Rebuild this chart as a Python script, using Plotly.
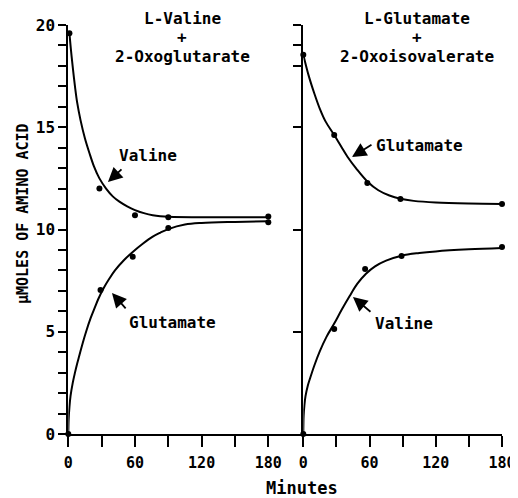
import plotly.graph_objects as go

# ---------------- data ----------------
minutes_ticks = [0, 30, 60, 90, 120, 150, 180]
minutes_ticktext = ["0", "", "60", "", "120", "", "180"]

# Left panel: L-Valine + 2-Oxoglutarate
left_t_points = [1, 28, 60, 90, 180]
left_valine_points = [19.6, 12.0, 10.7, 10.6, 10.63]
left_glut_t_points = [0, 29, 58, 90, 180]
left_glutamate_points = [0, 7.04, 8.67, 10.07, 10.35]

left_valine_curve_t = [1, 2, 3, 4.5, 6, 8, 11, 15, 19, 23, 28, 34, 40, 46, 53, 60, 68, 76, 91, 120, 180]
left_valine_curve_y = [19.6, 19.0, 18.45, 17.7, 17.0, 16.2, 15.35, 14.45, 13.74, 13.1, 12.5, 12.0,
                       11.62, 11.36, 11.13, 10.95, 10.8, 10.7, 10.62, 10.6, 10.6]
left_glut_curve_t = [0, 0.3, 1, 2, 4, 6, 8, 10, 13, 16, 20, 24, 27, 32, 37, 42, 50, 58, 67, 76, 83,
                     90, 105, 120, 150, 180]
left_glut_curve_y = [0, 0.7, 1.3, 1.85, 2.5, 3.0, 3.45, 3.85, 4.45, 5.0, 5.65, 6.2, 6.6, 7.15, 7.6,
                     8.0, 8.5, 8.9, 9.3, 9.65, 9.85, 10.02, 10.24, 10.32, 10.37, 10.4]

# Right panel: L-Glutamate + 2-Oxoisovalerate
right_t_points = [0, 28, 58, 88, 180]
right_glutamate_points = [18.55, 14.62, 12.27, 11.49, 11.25]
right_val_t_points = [0, 28, 56, 89, 180]
right_valine_points = [0, 5.13, 8.07, 8.70, 9.14]

right_glut_curve_t = [0, 5, 10, 15, 20, 28, 40, 48, 58, 68, 78, 88, 100, 120, 150, 180]
right_glut_curve_y = [18.55, 17.5, 16.65, 15.9, 15.3, 14.62, 13.56, 12.98, 12.35, 11.92, 11.66,
                      11.5, 11.4, 11.32, 11.27, 11.25]
right_val_curve_t = [0, 0.3, 1, 2, 4, 6, 10, 15, 21, 28, 35, 42, 49, 57, 65, 75, 89, 105, 120, 150, 180]
right_val_curve_y = [0, 0.9, 1.4, 1.85, 2.35, 2.7, 3.35, 4.05, 4.75, 5.4, 6.1, 6.75, 7.35, 7.85,
                     8.2, 8.48, 8.72, 8.85, 8.93, 9.03, 9.1]

left_yticks = list(range(0, 21))
left_yticktext = [str(v) if v % 5 == 0 else "" for v in left_yticks]
right_yticks = [5, 10, 15, 18, 19, 20]

# ---------------- figure ----------------
PAGE_OFF = 8          # default page body margin
W, H = 518 - PAGE_OFF, 498 - PAGE_OFF
FONT = "DejaVu Sans Mono"


def px(x):
    return (x - PAGE_OFF) / W


def py(y):
    return 1 - (y - PAGE_OFF) / H


fig = go.Figure()

line_style = dict(color="black", width=2, shape="spline", smoothing=1.0)
mk = dict(color="black", size=6)

fig.add_trace(go.Scatter(x=left_valine_curve_t, y=left_valine_curve_y, mode="lines",
                         line=line_style, xaxis="x", yaxis="y", cliponaxis=False))
fig.add_trace(go.Scatter(x=left_glut_curve_t, y=left_glut_curve_y, mode="lines",
                         line=line_style, xaxis="x", yaxis="y", cliponaxis=False))
fig.add_trace(go.Scatter(x=left_t_points, y=left_valine_points, mode="markers",
                         marker=mk, xaxis="x", yaxis="y", cliponaxis=False))
fig.add_trace(go.Scatter(x=left_glut_t_points, y=left_glutamate_points, mode="markers",
                         marker=mk, xaxis="x", yaxis="y", cliponaxis=False))

fig.add_trace(go.Scatter(x=right_glut_curve_t, y=right_glut_curve_y, mode="lines",
                         line=line_style, xaxis="x2", yaxis="y2", cliponaxis=False))
fig.add_trace(go.Scatter(x=right_val_curve_t, y=right_val_curve_y, mode="lines",
                         line=line_style, xaxis="x2", yaxis="y2", cliponaxis=False))
fig.add_trace(go.Scatter(x=right_t_points, y=right_glutamate_points, mode="markers",
                         marker=mk, xaxis="x2", yaxis="y2", cliponaxis=False))
fig.add_trace(go.Scatter(x=right_val_t_points, y=right_valine_points, mode="markers",
                         marker=mk, xaxis="x2", yaxis="y2", cliponaxis=False))

x0_left, x180_left = 68.3, 268.3
ppm_left = (x180_left - x0_left) / 180
x0_right, x180_right = 303.3, 502
left_max = (x0_right - x0_left) / ppm_left

ydom = [py(434), py(25)]

axis_common = dict(showline=True, linecolor="black", linewidth=2, showgrid=False,
                   zeroline=False, ticks="outside", tickcolor="black", tickwidth=1.6,
                   automargin=False)

fig.update_layout(
    width=W, height=H,
    margin=dict(l=0, r=0, t=0, b=0, autoexpand=False),
    paper_bgcolor="white", plot_bgcolor="white",
    showlegend=False,
    font=dict(family=FONT, color="black", size=15, weight="bold"),
    xaxis=dict(**axis_common, domain=[px(x0_left), px(x0_right)], range=[0, left_max],
               tickvals=minutes_ticks, ticktext=minutes_ticktext, ticklen=11,
               ticklabelstandoff=3, anchor="y",
               tickfont=dict(family=FONT, size=15, weight="bold")),
    xaxis2=dict(**axis_common, domain=[px(x0_right), px(x180_right)], range=[0, 180],
                tickvals=minutes_ticks, ticktext=minutes_ticktext, ticklen=11,
                ticklabelstandoff=3, anchor="y2",
                tickfont=dict(family=FONT, size=15, weight="bold")),
    yaxis=dict(**axis_common, domain=ydom, range=[0, 20], anchor="x",
               tickvals=left_yticks, ticktext=left_yticktext, ticklen=8,
               tickfont=dict(family=FONT, size=16, weight="bold")),
    yaxis2=dict(**axis_common, domain=ydom, range=[0, 20], anchor="x2",
                tickvals=right_yticks, showticklabels=False, ticklen=8),
)

annotations = []


def txt(text, x, y, size=15, **kw):
    annotations.append(dict(text=text, x=px(x), y=py(y), xref="paper", yref="paper",
                            showarrow=False, xanchor="center", yanchor="middle",
                            font=dict(family=FONT, size=size, color="black", weight="bold"), **kw))


# panel titles
txt("L-Valine", 182, 18, 16)
txt("+", 182, 37, 16)
txt("2-Oxoglutarate", 182, 57, 16)
txt("L-Glutamate", 417, 18, 16)
txt("+", 417, 37, 16)
txt("2-Oxoisovalerate", 417, 57, 16)

# curve labels
txt("Valine", 148, 155, 16)
txt("Glutamate", 172, 322, 16)
txt("Glutamate", 419, 145, 16)
txt("Valine", 404, 323, 16)

# axis titles
txt("μMOLES OF AMINO ACID", 23, 214, 15, textangle=-90)
txt("Minutes", 302, 488, 17)

# arrows (tip in data coordinates, tail offset in pixels)
arrows = [
    ("x", "y", 35.7, 12.32, 15, -14),
    ("x", "y", 39.3, 6.9, 15, 17),
    ("x2", "y2", 44.1, 13.55, 21, -13),
    ("x2", "y2", 45.0, 6.7, 19, 16),
]
for xr, yr, ax_, ay_, dx, dy in arrows:
    annotations.append(dict(x=ax_, y=ay_, xref=xr, yref=yr, ax=dx, ay=dy,
                            axref="pixel", ayref="pixel", text="", showarrow=True,
                            arrowhead=2, arrowsize=1.6, arrowwidth=1.8, arrowcolor="black"))

fig.update_layout(annotations=annotations)

fig.write_html("out.html")
